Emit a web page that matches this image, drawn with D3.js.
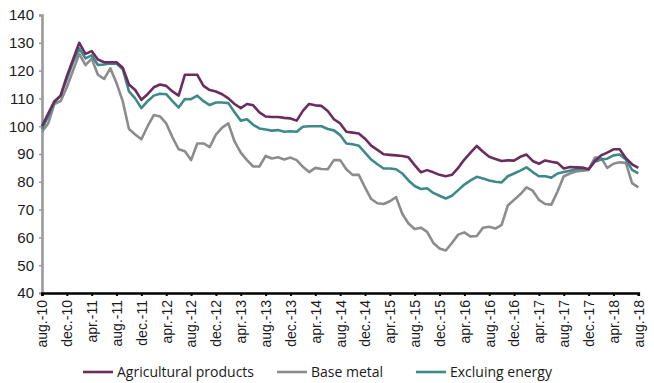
<!DOCTYPE html>
<html>
<head>
<meta charset="utf-8">
<script src="https://cdn.jsdelivr.net/npm/d3@7/dist/d3.min.js"></script>
<style>
  html, body { margin: 0; padding: 0; background: #fff; }
  svg { display: block; font-family: "Open Sans", "Noto Sans", sans-serif; }
</style>
</head>
<body>
<svg id="chart" width="654" height="383"></svg>
<script>
// Monthly index values, aug-10 .. aug-18 (97 months)
const startMonth = [2010, 7]; // year, zero-based month (August)
const monthNames = ["jan.", "feb.", "mar.", "apr.", "may", "jun.", "jul.", "aug.", "sep.", "oct.", "nov.", "dec."];

const agricultural = [
  100, 104.5, 109, 111, 118, 124, 130, 126, 127, 124, 123, 123, 123,
  121, 115, 113, 109.5, 111.5, 114, 115, 114.5, 112.5, 111, 118.5, 118.5,
  118.5, 114.5, 113, 112.5, 111.5, 110, 108, 106.5, 108, 107.5, 105, 103.5,
  103.3, 103.3, 103, 102.8, 102, 105.5, 108, 107.5, 107.3, 105.5, 102.5, 101,
  98, 97.7, 97.4, 95.5, 93, 91.5, 89.9, 89.7, 89.5, 89.3, 88.8, 86,
  83.4, 84.2, 83.4, 82.5, 82, 82.5, 85, 88, 90.5, 92.9, 90.8, 89,
  88.2, 87.5, 87.7, 87.6, 89, 89.8, 87.5, 86.5, 87.7, 87.2, 86.8, 84.8,
  85.3, 85.2, 85.1, 84.5, 87.5, 89.5, 90.5, 91.7, 91.7, 88.5, 86.3, 85
];

const baseMetal = [
  98, 101, 108, 109, 114, 120, 126, 122, 124.3, 118.5, 117, 120.8, 115.5,
  109, 99, 97, 95.3, 100, 104, 103.5, 101, 96, 91.7, 91, 87.8,
  93.8, 93.8, 92.5, 97, 99.5, 101, 94.5, 90.5, 87.8, 85.5, 85.5, 89.3,
  88.4, 88.8, 88, 88.7, 87.8, 85.4, 83.5, 85, 84.6, 84.5, 87.8, 87.8,
  84.5, 82.5, 82.5, 78, 73.8, 72.3, 72, 73, 74.5, 68.5, 65, 63,
  63.5, 62, 58, 56, 55.3, 58, 61, 61.8, 60.3, 60.5, 63.5, 63.8,
  63.2, 64.5, 71.5, 73.5, 75.5, 78, 76.8, 73.5, 72, 71.8, 76.5, 82,
  83, 83.7, 84, 84.3, 88.7, 88.7, 85, 86.5, 87, 86.8, 79.5, 78
];

const exEnergy = [
  99, 103.5, 108.5, 111, 117, 123, 128, 124.4, 125.5, 122, 122.2, 122.6, 122.5,
  120.5, 112.5, 110, 106.5, 109, 111, 111.7, 111.5, 109, 106.7, 109.8, 109.7,
  111, 109, 107.6, 108.5, 108.5, 108.3, 105, 102, 102.5, 100.5, 99.2, 98.8,
  98.4, 98.6, 98, 98.2, 98, 99.8, 100, 100, 100, 99, 98.5, 96.8,
  93.8, 93.5, 93, 90.5, 88, 86.3, 84.8, 84.8, 84.5, 83, 80.5, 78.5,
  77.4, 77.7, 76, 75, 74, 75, 77, 79, 80.5, 81.8, 81.2, 80.5,
  80, 79.8, 82, 83, 84, 85.2, 83.5, 82, 82, 81.5, 83, 83.5,
  84, 84.5, 84.5, 84.5, 87.2, 88, 88.3, 89.5, 89.8, 88, 84.3, 83
];

const yTicks = [40, 50, 60, 70, 80, 90, 100, 110, 120, 130, 140];

const seriesNames = ["Agricultural products", "Base metal", "Excluing energy"];
const seriesColors = ["#6b2d5f", "#8c8c8c", "#3e8a8a"];

const months = agricultural.map((_, i) => i);
function monthLabel(i) {
  const m = (startMonth[1] + i) % 12;
  const yr = startMonth[0] + Math.floor((startMonth[1] + i) / 12);
  return monthNames[m] + "-" + String(yr % 100).padStart(2, "0");
}
const tickIndex = months.filter(i => i % 4 === 0);

const svg = d3.select("#chart");
const plotLeft = 42, plotRight = 638.3, plotTop = 15, plotBottom = 293;

const x = d3.scaleLinear().domain([0, months.length - 1]).range([plotLeft, plotRight]);
const y = d3.scaleLinear().domain([40, 140]).range([plotBottom, plotTop]);

// Y axis: grey spine, small grey ticks
const yAxis = svg.append("g")
  .attr("transform", `translate(${plotLeft},0)`)
  .call(d3.axisLeft(y).tickValues(yTicks).tickSize(3).tickPadding(5).tickFormat(d3.format("d")));
yAxis.select(".domain").attr("stroke", "#9a9a9a").attr("stroke-width", 2.6);
yAxis.selectAll(".tick line").attr("stroke", "#9a9a9a").attr("stroke-width", 1.5);
yAxis.selectAll(".tick text").attr("fill", "#1a1a1a").style("font-size", "15px");

// Lines: base metal first, then excluding energy, agricultural on top
const line = d3.line().x((d, i) => x(i)).y(d => y(d));
const drawOrder = [1, 2, 0];
const seriesData = [agricultural, baseMetal, exEnergy];
drawOrder.forEach(k => {
  svg.append("path")
    .datum(seriesData[k])
    .attr("fill", "none")
    .attr("stroke", seriesColors[k])
    .attr("stroke-width", 2.6)
    .attr("stroke-linejoin", "round")
    .attr("d", line);
});

// X axis: black spine with ticks every four months, rotated labels
const xAxis = svg.append("g")
  .attr("transform", `translate(0,${plotBottom})`)
  .call(d3.axisBottom(x).tickValues(tickIndex).tickSize(3).tickFormat(monthLabel));
xAxis.select(".domain").attr("stroke", "#000").attr("stroke-width", 2.6);
xAxis.selectAll(".tick line").attr("stroke", "#000").attr("stroke-width", 2);
xAxis.selectAll(".tick text")
  .attr("fill", "#1a1a1a")
  .style("font-size", "14px")
  .attr("text-anchor", "end")
  .attr("dy", "0.35em")
  .attr("transform", "rotate(-90)")
  .attr("x", -7)
  .attr("y", 0);

// Legend
const legendItems = [
  { name: seriesNames[0], color: seriesColors[0], x0: 83 },
  { name: seriesNames[1], color: seriesColors[1], x0: 277 },
  { name: seriesNames[2], color: seriesColors[2], x0: 416 }
];
const legend = svg.append("g").attr("transform", "translate(0,372)");
legendItems.forEach(item => {
  legend.append("line")
    .attr("x1", item.x0).attr("x2", item.x0 + 30)
    .attr("y1", 0).attr("y2", 0)
    .attr("stroke", item.color).attr("stroke-width", 2.6);
  legend.append("text")
    .attr("x", item.x0 + 34).attr("y", 0).attr("dy", "0.35em")
    .attr("fill", "#1a1a1a")
    .style("font-size", "14px")
    .text(item.name);
});
</script>
</body>
</html>
